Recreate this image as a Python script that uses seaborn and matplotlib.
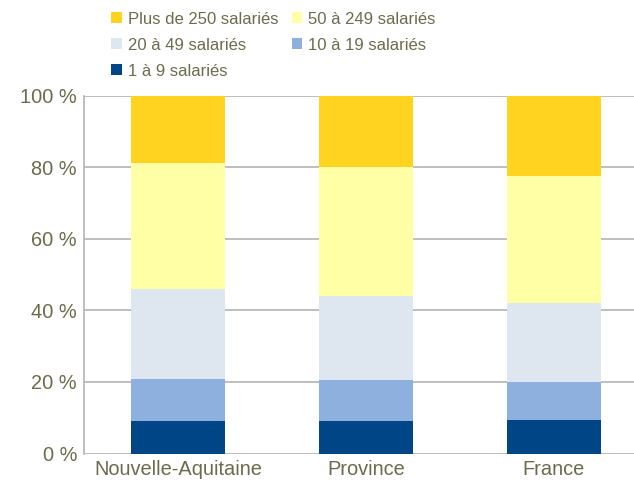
import numpy as np
import pandas as pd
import matplotlib
matplotlib.use("Agg")
import matplotlib.pyplot as plt
import seaborn as sns
from matplotlib.patches import Patch

regions = ["Nouvelle-Aquitaine", "Province", "France"]
tranches = ["1 à 9 salariés", "10 à 19 salariés", "20 à 49 salariés",
            "50 à 249 salariés", "Plus de 250 salariés"]
s_1_9 = [9.2, 9.2, 9.4]
s_10_19 = [11.6, 11.3, 10.6]
s_20_49 = [25.1, 23.5, 22.1]
s_50_249 = [35.3, 36.0, 35.4]
s_250 = [18.8, 20.0, 22.5]
colors = ["#004586", "#8eb0df", "#dee6ef", "#ffffa6", "#ffd320"]

sns.set_theme(style="white")
plt.rcParams["font.family"] = ["Liberation Sans", "DejaVu Sans"]
text_color = "#6b6b4e"

fig = plt.figure(figsize=(6.34, 4.83), dpi=100)
ax = fig.add_axes([84 / 634, 29.5 / 483, 1 - 84 / 634, 358 / 483])

series = [s_1_9, s_10_19, s_20_49, s_50_249, s_250]
bottom = np.zeros(len(regions))
for name, vals, col in zip(tranches, series, colors):
    df = pd.DataFrame({"region": regions, "pct": vals})
    sns.barplot(data=df, x="region", y="pct", bottom=bottom, color=col,
                width=0.5, saturation=1, ax=ax, zorder=3, linewidth=0)
    bottom += np.array(vals)

ax.set_ylim(0, 100)
ax.set_xlim(-0.5, -0.5 + 550 / 188)
ax.set_yticks(range(0, 101, 20))
ax.set_yticklabels([f"{v} %" for v in range(0, 101, 20)])
ax.yaxis.grid(True, color="#b3b3b3", linewidth=1.2, zorder=0)
ax.set_axisbelow(True)
for s in ["top", "right", "bottom"]:
    ax.spines[s].set_visible(False)
ax.spines["left"].set_color("#b3b3b3")
ax.spines["left"].set_linewidth(1.2)
ax.tick_params(axis="both", length=0, labelsize=14.4, colors=text_color, pad=5)
ax.set_xlabel("")
ax.set_ylabel("")

handles = {n: Patch(facecolor=c, edgecolor="none") for n, c in zip(tranches, colors)}
order = ["Plus de 250 salariés", "20 à 49 salariés", "1 à 9 salariés",
         "50 à 249 salariés", "10 à 19 salariés"]
leg = fig.legend([handles[n] for n in order], order, ncol=2, loc="upper left",
                 bbox_to_anchor=(111 / 634, 1 - 11.5 / 483), frameon=False,
                 fontsize=12, handlelength=0.65, handleheight=0.65,
                 handletextpad=0.35, columnspacing=0.8, labelspacing=0.66,
                 borderaxespad=0, borderpad=0)
for t in leg.get_texts():
    t.set_color(text_color)

fig.savefig("out.png", dpi=100)
